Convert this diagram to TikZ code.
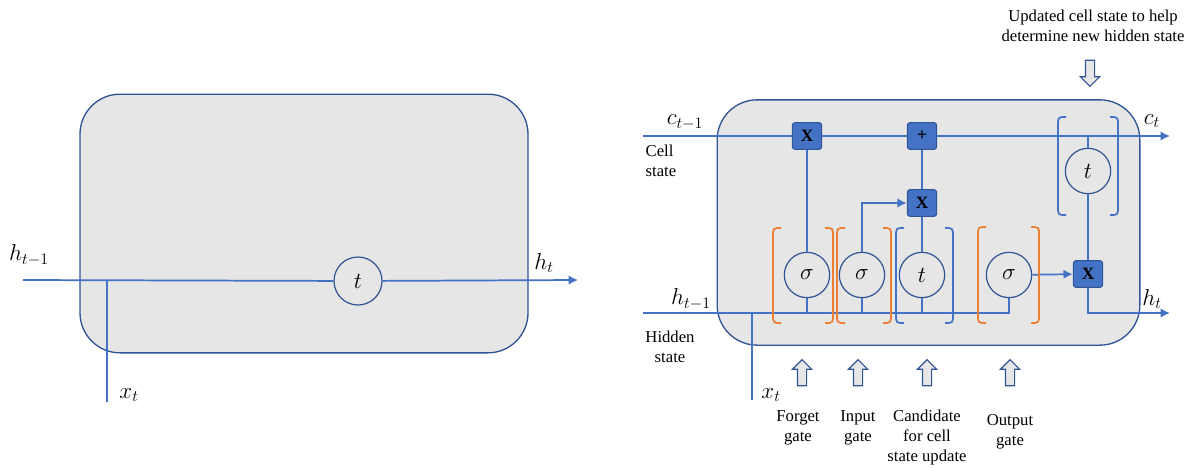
\documentclass[tikz,border=0pt]{standalone}
\usepackage{fontspec}
\setmainfont{Liberation Serif}
\usepackage{xcolor}
\usepackage{tikz}
\usetikzlibrary{arrows.meta,shapes.arrows}
\definecolor{LstmLine}{HTML}{4472C4}
\definecolor{LstmEdge}{HTML}{2F5597}
\definecolor{LstmFill}{HTML}{E6E6E6}
\definecolor{LstmOrange}{HTML}{ED7D31}
\definecolor{LstmHint}{HTML}{E7E6E6}

\begin{document}
\begin{tikzpicture}[x=0.75pt,y=-0.75pt,
  cell/.style={draw=LstmEdge,fill=LstmFill,line width=1pt,rounded corners=30pt,inner sep=0pt},
  act/.style={circle,draw=LstmEdge,fill=LstmFill,line width=0.9pt,minimum size=34pt,inner sep=0pt,font=\fontsize{16}{16}\selectfont},
  op/.style={draw=LstmEdge,fill=LstmLine,line width=0.8pt,rounded corners=2pt,minimum width=22pt,minimum height=20pt,inner sep=0pt,font=\bfseries\fontsize{13}{13}\selectfont},
  flow/.style={draw=LstmLine,line width=1.3pt},
  feed/.style={flow,-{Latex[length=7pt,width=7pt]}},
  hint/.style={single arrow,draw=LstmEdge,fill=LstmHint,line width=0.8pt,inner sep=3pt,minimum height=19.5pt,single arrow head extend=3.75pt,single arrow tip angle=90},
  note/.style={align=center,font=\fontsize{12.5}{15}\selectfont},
  var/.style={font=\fontsize{16.5}{16}\selectfont}
]
\useasboundingbox (0,0) rectangle (1192,468);
% simple RNN cell
\node[cell,minimum width=336pt,minimum height=194pt] (rnn) at (304,223.5) {};
\coordinate (lin) at (23,280);
\coordinate (lout) at (578,280);
\coordinate (lxin) at (107,402);
\node[act,minimum size=36pt] (lt) at (358,281) {$t$};
\draw[flow] (lin) -- (lt);
\draw[feed] (lt) -- (lout);
\draw[flow] (lxin) -- (lxin |- lin);
\node[var] (lhprev) at (29,255) {$h_{t-1}$};
\node[var] (lhnext) at (544,263) {$h_t$};
\node[var] (lx) at (129,395) {$x_t$};

% LSTM cell
\node[cell,minimum width=317pt,minimum height=184pt] (lstm) at (928.5,222.5) {};
\coordinate (cin) at (643,136);
\coordinate (cout) at (1170,136);
\coordinate (hin) at (643,313);
\coordinate (hout) at (1170,313);
\coordinate (xin) at (752,400);
\coordinate (rtj) at (1088,136);
\node[op] (fx) at (807,136) {X};
\node[op] (cp) at (922,136) {+};
\node[op] (ix) at (922,203) {X};
\node[op] (ox) at (1088,274) {X};
\node[act] (fs) at (807,275) {$\sigma$};
\node[act] (is) at (862,275) {$\sigma$};
\node[act] (ct) at (922,275) {$t$};
\node[act] (os) at (1009,275) {$\sigma$};
\node[act] (rt) at (1088,171) {$t$};

\draw[flow] (cin) -- (fx);
\draw[flow] (fx) -- (cp);
\draw[feed] (cp) -- (cout);
\draw[flow] (hin) -| (os);
\draw[flow] (xin) -- (xin |- hin);
\draw[flow] (fs) -- (fs |- hin);
\draw[flow] (is) -- (is |- hin);
\draw[flow] (ct) -- (ct |- hin);
\draw[flow] (fs) -- (fx);
\draw[feed] (is) |- (ix);
\draw[flow] (ct) -- (ix);
\draw[flow] (ix) -- (cp);
\draw[feed] (os) -- (ox);
\draw[flow] (rtj) -- (rt);
\draw[flow] (rt) -- (ox);
\draw[feed] (ox) |- (hout);

% gate brackets
\foreach \bl/\br/\bt/\bb/\bc in {773/833/228/323/LstmOrange,837/891/228/323/LstmOrange,896/953/228/323/LstmLine,978/1039/227/323/LstmOrange,1058/1118/117/215/LstmLine}{
  \draw[\bc,line width=1.3pt] (\bl+8,\bt) .. controls (\bl,\bt) .. (\bl,\bt+9) -- (\bl,\bb-9) .. controls (\bl,\bb) .. (\bl+8,\bb);
  \draw[\bc,line width=1.3pt] (\br-8,\bt) .. controls (\br,\bt) .. (\br,\bt+9) -- (\br,\bb-9) .. controls (\br,\bb) .. (\br-8,\bb);
}

\node[var] (cprev) at (685,122) {$c_{t-1}$};
\node[var] (cnext) at (1152,121) {$c_t$};
\node[var] (hprev) at (691,299) {$h_{t-1}$};
\node[var] (hnext) at (1152,299) {$h_t$};
\node[var] (xcur) at (771,395) {$x_t$};
\node[note,anchor=west,align=left] (celltxt) at (641,161) {Cell\\state};
\node[note] (hidtxt) at (670,347) {Hidden\\state};

% hints
\node[hint,rotate=90] (fgarr) at (802,375) {};
\node[hint,rotate=90] (inarr) at (858,375) {};
\node[hint,rotate=90] (cdarr) at (927,375) {};
\node[hint,rotate=90] (otarr) at (1010,375) {};
\node[hint,rotate=-90] (uparr) at (1090,71) {};
\node[note] (fgtxt) at (798,428) {Forget\\gate};
\node[note] (intxt) at (858,428) {Input\\gate};
\node[note] (cdtxt) at (927,437) {Candidate\\for cell\\state update};
\node[note] (ottxt) at (1010,432) {Output\\gate};
\node[note] (uptxt) at (1093,26) {Updated cell state to help\\determine new hidden state};
\end{tikzpicture}
\end{document}
